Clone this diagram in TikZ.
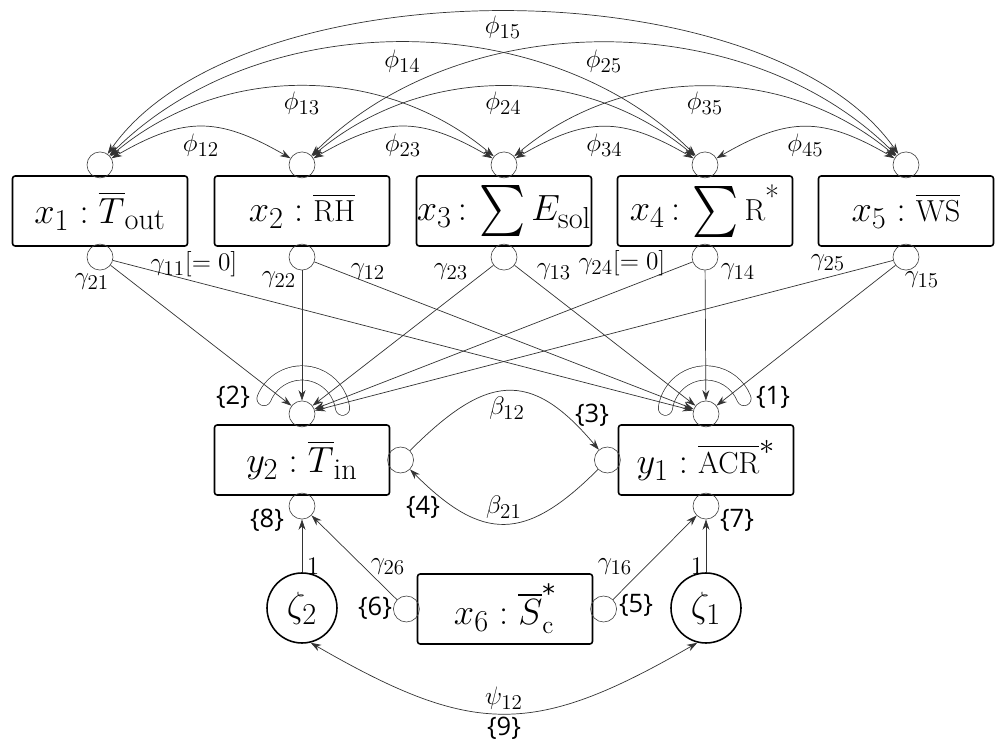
\documentclass[tikz,border=0pt]{standalone}
\usepackage{amsmath, amssymb}
\usepackage{graphicx}
\usepackage{fontspec}
\newfontfamily\tagfont{Open Sans}
\newfontfamily\starfont{DejaVu Sans}
% subscripts and upright parts a bit larger than plain TeX gives
\newcommand{\bsub}[1]{_{\text{\fontsize{17.28}{20}\selectfont$#1$}}}
\newcommand{\bsup}[1]{^{\text{\fontsize{17.28}{20}\selectfont$#1$}}}
\newcommand{\lsub}[1]{_{\text{\fontsize{12}{14}\selectfont$#1$}}}
\newcommand{\up}[1]{\text{\fontsize{17.28}{20}\selectfont #1}}
\newcommand{\sumsign}{\mathop{\vcenter{\hbox{\scalebox{1.2}[1.4]{$\textstyle\sum$}}}}}
\usetikzlibrary{
  calc,          % Coordinate math
  positioning,   % Ports set against the boxes
  arrows.meta    % Stealth tips
}

\begin{document}
\begin{tikzpicture}[x=0.02cm, y=0.02cm,
    var/.style={draw, line width=0.9pt, rounded corners=1.5pt, minimum width=3.5cm,
      minimum height=1.4cm, inner sep=0pt, font=\huge},
    port/.style={draw=black!75, circle, line width=0.35pt, minimum size=0.52cm, inner sep=0pt},
    err/.style={draw, circle, line width=0.9pt, minimum size=1.4cm, inner sep=0pt, font=\huge},
    effect/.style={draw=black!80, line width=0.4pt, -{Stealth[length=6pt, width=4pt]}},
    cov/.style={draw=black!80, line width=0.4pt,
      {Stealth[length=6pt, width=4pt]}-{Stealth[length=6pt, width=4pt]}},
    horseshoe/.style={draw=black!80, line width=0.4pt, double=white,
      double distance=0.27cm, line cap=round},
    lab/.style={font=\Large, inner sep=1pt},
    tagno/.style={font=\tagfont\fontsize{14.5}{17}\selectfont, inner sep=1pt}
  ]
          \useasboundingbox (0,0) rectangle (995,-740);
          % exogenous row
          \node[var] (x1) at (100,-211) {$x\bsub{1}:\overline{T}\bsub{\mathrm{out}}$};
          \node[var] (x2) at (302,-211) {$x\bsub{2}:\overline{\up{RH}}$};
          \node[var] (x3) at (504,-211) {\makebox[0pt]{$x\bsub{3}\,{:}\,\sumsign E\bsub{\mathrm{sol}}$}};
          \node[var] (x4) at (705,-211) {$x\bsub{4}\,{:}\,\sumsign \up{R}^{\up{*}}$};
          \node[var] (x5) at (906,-211) {$x\bsub{5}:\overline{\up{WS}}$};
          % endogenous, errors and x6
          \node[var] (y2) at (302,-460) {$y\bsub{2}:\overline{T}\bsub{\mathrm{in}}$};
          \node[var] (y1) at (706,-460) {$y\bsub{1}:\overline{\up{ACR}}\bsup{*}$};
          \node[var] (x6) at (505,-609) {$x\bsub{6}:\overline{S}_{\mathrm{c}}^{\text{\starfont *}}$};
          \node[err] (z2) at (302,-608) {$\zeta\bsub{2}$};
          \node[err] (z1) at (706,-608) {$\zeta\bsub{1}$};
          % ports
          \foreach \i in {1,...,5} {
            \node[port, above=-0.06cm of x\i] (t\i) {};
            \node[port, below=-0.06cm of x\i] (b\i) {};
          }
          \node[port, above=-0.06cm of y2] (y2t) {};
          \node[port, below=-0.06cm of y2] (y2b) {};
          \node[port, right=-0.06cm of y2] (y2r) {};
          \node[port, above=-0.06cm of y1] (y1t) {};
          \node[port, below=-0.06cm of y1] (y1b) {};
          \node[port, left=-0.06cm of y1] (y1l) {};
          \node[port, left=-0.06cm of x6] (x6l) {};
          \node[port, right=-0.06cm of x6] (x6r) {};
          % grouping loops {1} and {2}
          \draw[horseshoe] (y2t.center) ++(158:41) arc[start angle=158, end angle=8, radius=41];
          \draw[horseshoe] (y1t.center) ++(172:41) arc[start angle=172, end angle=22, radius=41];
          % gamma paths
          \foreach \i in {1,...,5} {
            \draw[effect] (b\i) -- (y2t);
            \draw[effect] (b\i) -- (y1t);
          }
          % phi covariances
          \foreach \i/\j in {1/2,2/3,3/4,4/5}
            \draw[cov] (t\i) to[out=30, in=150, looseness=1.2] node[lab, below=3pt] {$\phi\lsub{\i\j}$} (t\j);
          \foreach \i/\j in {1/3,2/4,3/5}
            \draw[cov] (t\i) to[out=40, in=140, looseness=0.97] node[lab, below=2pt] {$\phi\lsub{\i\j}$} (t\j);
          \foreach \i/\j in {1/4,2/5}
            \draw[cov] (t\i) to[out=45, in=135, looseness=0.93] node[lab, below=3pt] {$\phi\lsub{\i\j}$} (t\j);
          \draw[cov] (t1) to[out=55, in=125, looseness=0.75] node[lab, below=1pt] {$\phi\lsub{15}$} (t5);
          % beta paths
          \draw[effect] (y2r) to[out=45, in=130, looseness=1.45] node[lab, below=2pt] {$\beta\lsub{12}$} (y1l);
          \draw[effect] (y1l) to[out=-135, in=-45, looseness=1.4] node[lab, above=2pt] {$\beta\lsub{21}$} (y2r);
          % lower part
          \draw[effect] (z2) -- (y2b);
          \draw[effect] (x6l) -- (y2b);
          \draw[effect] (x6r) -- (y1b);
          \draw[effect] (z1) -- (y1b);
          \draw[cov] (z2.-76) to[out=-30, in=-150, looseness=1.25]
            node[lab, above=1pt] {$\psi\lsub{12}$} node[tagno, below=1pt] {\{9\}} (z1.-104);
          % gamma labels
          \node[lab] (g21) at (92,-282) {$\gamma\lsub{21}$};
          \node[lab] (g11) at (194,-264) {$\gamma\lsub{11}[=0]$};
          \node[lab] (g22) at (279,-280) {$\gamma\lsub{22}$};
          \node[lab] (g12) at (368,-272) {$\gamma\lsub{12}$};
          \node[lab] (g23) at (451,-272) {$\gamma\lsub{23}$};
          \node[lab] (g13) at (554,-272) {$\gamma\lsub{13}$};
          \node[lab] (g24) at (622,-263) {$\gamma\lsub{24}[=0]$};
          \node[lab] (g14) at (738,-272) {$\gamma\lsub{14}$};
          \node[lab] (g25) at (828,-263) {$\gamma\lsub{25}$};
          \node[lab] (g15) at (922,-280) {$\gamma\lsub{15}$};
          \node[lab] (g26) at (388,-567) {$\gamma\lsub{26}$};
          \node[lab] (g16) at (615,-567) {$\gamma\lsub{16}$};
          \node[lab] (one2) at (313,-566) {$1$};
          \node[lab] (one1) at (697,-566) {$1$};
          % constraint tags
          \node[tagno] (k1) at (773,-397) {\{1\}};
          \node[tagno] (k2) at (233,-397) {\{2\}};
          \node[tagno] (k3) at (592,-415) {\{3\}};
          \node[tagno] (k4) at (423,-507) {\{4\}};
          \node[tagno] (k5) at (636,-605) {\{5\}};
          \node[tagno] (k6) at (375,-608) {\{6\}};
          \node[tagno] (k7) at (737,-520) {\{7\}};
          \node[tagno] (k8) at (267,-520) {\{8\}};
        \end{tikzpicture}
\end{document}
